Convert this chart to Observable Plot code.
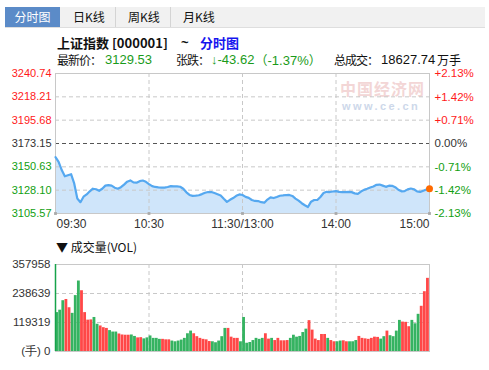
<!DOCTYPE html>
<html><head><meta charset="utf-8">
<script src="https://cdn.jsdelivr.net/npm/d3@7"></script>
<script src="https://cdn.jsdelivr.net/npm/@observablehq/plot@0.6"></script>
<style>
body{margin:0;background:#fff;font-family:"Liberation Sans","Noto Sans CJK SC",sans-serif;color:#111;}
#root{position:relative;width:489px;height:370px;overflow:hidden;}
.abs{position:absolute;white-space:nowrap;line-height:1;}
.cjk{font-family:"Noto Sans CJK SC","Liberation Sans",sans-serif;}
.lab{font-size:12px;letter-spacing:-1px;line-height:12px;top:54px;}
.num{font-family:"Liberation Sans",sans-serif;font-size:13px;line-height:12px;top:54px;}
.g{color:#1a9b1a;}
#price,#vol{position:absolute;left:0;}
#price{top:65px;}
#vol{top:255px;}
</style></head><body><div id="root">
<div class="abs" style="left:5px;top:7px;width:480px;height:20px;background:#f1f1f1;border-bottom:1px solid #dedede;"></div>
<div class="abs cjk" style="left:5px;top:7px;width:55px;height:20px;background:#5b8bc8;color:#fff;font-size:12px;line-height:20px;text-align:center;">分时图</div>
<div class="abs" style="left:115px;top:7px;width:1px;height:20px;background:#d4d4d4;"></div>
<div class="abs" style="left:170px;top:7px;width:1px;height:20px;background:#d4d4d4;"></div>
<div class="abs cjk" style="left:73px;top:10px;font-size:12px;line-height:14px;">日K线</div>
<div class="abs cjk" style="left:128px;top:10px;font-size:12px;line-height:14px;">周K线</div>
<div class="abs cjk" style="left:183px;top:10px;font-size:12px;line-height:14px;">月K线</div>

<div class="abs cjk" style="left:57px;top:35px;font-size:13px;font-weight:bold;line-height:15px;">上证指数 [000001]</div>
<div class="abs" style="left:181px;top:35px;font-size:13px;font-weight:bold;line-height:15px;">~</div>
<div class="abs cjk" style="left:200px;top:35px;font-size:13px;font-weight:bold;line-height:15px;color:#1515ee;">分时图</div>

<div class="abs cjk lab" style="left:57px;">最新价：</div>
<div class="abs num g" style="left:105px;">3129.53</div>
<div class="abs cjk lab" style="left:176px;">张跌：</div>
<div class="abs num g" style="left:211px;">↓-43.62</div>
<div class="abs cjk g" style="left:255px;top:54px;font-size:12.5px;line-height:12px;">（<span style="font-family:'Liberation Sans';font-size:13px;">-1.37%</span>）</div>
<div class="abs cjk lab" style="left:334px;">总成交：</div>
<div class="abs num" style="left:381px;">18627.74</div>
<div class="abs cjk" style="left:437px;top:54px;font-size:12px;line-height:12px;">万手</div>

<div class="abs cjk" style="left:340px;top:80.5px;font-size:16px;font-weight:bold;color:#f3d6d6;line-height:15px;letter-spacing:1px;">中国经济网</div>
<div class="abs" style="left:342px;top:101px;font-size:11px;font-weight:bold;color:#cdd8ea;line-height:10px;letter-spacing:2.4px;">www.ce.cn</div>

<div class="abs cjk" style="left:56px;top:240px;font-size:12px;line-height:14px;">▼ 成交量(VOL)</div>
<div id="price"></div>
<div id="vol"></div>
</div>
<script>
// Price ticks (left), percent labels (right), time ticks
const priceTicks = [3240.74, 3218.21, 3195.68, 3173.15, 3150.63, 3128.10, 3105.57];
const pctLabels = ["+2.13%", "+1.42%", "+0.71%", "0.00%", "-0.71%", "-1.42%", "-2.13%"];
const timeTicks = [0, 60, 120, 180, 240];
const timeLabels = ["09:30", "10:30", "11:30/13:00", "14:00", "15:00"];
const volTicks = [357958, 238639, 119319, 0];
const volLabels = ["357958", "238639", "119319", "(手) 0"];

// Index price every 2 trading minutes from 09:30 (0) to 15:00 (240)
const prices = [
  3160, 3155.5, 3147.5, 3141.5, 3142.5, 3143.5, 3134.6, 3120, 3116.5, 3121.8,
  3124, 3127, 3129.5, 3129, 3127.5, 3129.5, 3132.5, 3133, 3132.5, 3130.5,
  3129.5, 3131, 3133.5, 3136.3, 3137.5, 3135.6, 3135.3, 3136.8, 3137.4, 3136.2,
  3134, 3132, 3131.2, 3130.8, 3130.6, 3130.6, 3131.2, 3132, 3131.8, 3131.7,
  3131.4, 3129.5, 3126, 3123.5, 3122.6, 3122.8, 3123.2, 3124.3, 3125.6, 3126.3,
  3126.3, 3125.3, 3124.2, 3123, 3119.8, 3116.8, 3118.8, 3120.5, 3122.6, 3124,
  3123.4, 3121.6, 3120.7, 3118.6, 3117.7, 3117.6, 3116.5, 3116, 3119, 3121.1,
  3120.5, 3121.5, 3122.7, 3123, 3123.4, 3123.5, 3122.5, 3120, 3118, 3115.5,
  3113.5, 3111.8, 3117, 3118.6, 3118.6, 3121.5, 3125.4, 3126.5, 3126.3, 3126.8,
  3127.2, 3126.5, 3126.3, 3126.3, 3126.5, 3126.2, 3125, 3124.5, 3126.8, 3128.4,
  3129.4, 3130.6, 3131.7, 3133.3, 3133.5, 3132.5, 3131.3, 3132.4, 3132.3, 3131,
  3128.5, 3127, 3127.2, 3128.9, 3129.7, 3129, 3127, 3126.4, 3127.6, 3128.8,
  3129.53
];

// Volume (手) per 2-minute interval
const volumes = [
  160000, 170000, 209000, 214000, 180000, 157000, 230000, 290000, 250000, 160000,
  129000, 130000, 140000, 112000, 105000, 98000, 95000, 86000, 80000, 80000,
  72000, 68000, 67000, 67000, 68000, 62000, 56000, 57000, 52000, 56000,
  64000, 54000, 54000, 50000, 50000, 48000, 48000, 43000, 40000, 43000,
  47000, 54000, 73000, 84000, 73000, 61000, 54000, 50000, 48000, 41000,
  40000, 36000, 43000, 61000, 95000, 95000, 59000, 54000, 54000, 40000,
  140000, 34000, 37000, 45000, 54000, 50000, 54000, 73000, 51000, 54000,
  45000, 54000, 44000, 44000, 45000, 54000, 67000, 59000, 62000, 78000,
  92000, 127000, 88000, 51000, 45000, 70000, 70000, 54000, 45000, 40000,
  40000, 43000, 44000, 40000, 40000, 40000, 45000, 62000, 54000, 52000,
  50000, 54000, 59000, 58000, 51000, 61000, 84000, 65000, 61000, 84000,
  128000, 121000, 120000, 102000, 128000, 114000, 153000, 186000, 246000, 301000
];

const FONT = "'Liberation Sans', Arial, sans-serif";
const yMin = priceTicks[priceTicks.length - 1], yMax = priceTicks[0];
const rows = prices.map((p, i) => ({m: i * 2, p}));
const dash = {stroke: "#c8c8c8", strokeDasharray: "4,3"};
const tickRows = priceTicks.map((v, i) => ({v, i, pct: pctLabels[i]}));
const timeRows = timeTicks.map((t, i) => ({t, label: timeLabels[i]}));
const up = tickRows.filter(d => d.i < 3), mid = tickRows.filter(d => d.i === 3), dn = tickRows.filter(d => d.i > 3);
const RED = "#ff1a1a", GRN = "#11a011", MID = "#333";

const priceChart = Plot.plot({
  width: 489, height: 165,
  marginLeft: 55, marginRight: 60, marginTop: 8, marginBottom: 17,
  x: {domain: [0, 240], axis: null},
  y: {domain: [yMin, yMax], axis: null},
  style: {fontFamily: FONT, fontSize: "11px", background: "transparent", overflow: "visible"},
  marks: [
    Plot.areaY(rows, {x: "m", y1: yMin, y2: "p", fill: "#cfe5fa"}),
    Plot.ruleY(priceTicks.slice(1, -1).filter((d, i) => i !== 2), dash),
    Plot.ruleY([priceTicks[3]], {stroke: "#555", strokeDasharray: "4,3"}),
    Plot.ruleX(timeTicks.slice(1, -1), dash),
    Plot.frame({stroke: "#c8c8c8"}),
    Plot.line(rows, {x: "m", y: "p", stroke: "#55a8f0", strokeWidth: 2.2}),
    Plot.dot([rows[rows.length - 1]], {x: "m", y: "p", r: 3.5, fill: "#ff6a00"}),
    Plot.dot(timeTicks, {x: d => d, y: yMin, symbol: "square", r: 1.6, fill: "#aaa"}),
    Plot.text(up, {x: 0, y: "v", text: d => d.v.toFixed(2), textAnchor: "end", dx: -4, fill: RED}),
    Plot.text(mid, {x: 0, y: "v", text: d => d.v.toFixed(2), textAnchor: "end", dx: -4, fill: MID}),
    Plot.text(dn, {x: 0, y: "v", text: d => d.v.toFixed(2), textAnchor: "end", dx: -4, fill: GRN}),
    Plot.text(up, {x: 240, y: "v", text: "pct", textAnchor: "start", dx: 5, fill: RED, fontSize: 11.5}),
    Plot.text(mid, {x: 240, y: "v", text: "pct", textAnchor: "start", dx: 5, fill: MID, fontSize: 11.5}),
    Plot.text(dn, {x: 240, y: "v", text: "pct", textAnchor: "start", dx: 5, fill: GRN, fontSize: 11.5}),
    Plot.text(timeRows.slice(0, 1), {x: "t", y: yMin, text: "label", textAnchor: "start", dx: 1, dy: 11, fill: MID, fontSize: 12}),
    Plot.text(timeRows.slice(1, -1), {x: "t", y: yMin, text: "label", textAnchor: "middle", dy: 11, fill: MID, fontSize: 12}),
    Plot.text(timeRows.slice(-1), {x: "t", y: yMin, text: "label", textAnchor: "end", dy: 11, fill: MID, fontSize: 12})
  ]
});
document.getElementById("price").appendChild(priceChart);

const bins = volumes.map((v, i) => ({x1: i * 2, x2: i * 2 + 2, v, up: prices[i + 1] >= prices[i]}));
const volRows = volTicks.map((v, i) => ({v, label: volLabels[i]}));
const volChart = Plot.plot({
  width: 489, height: 105,
  marginLeft: 55, marginRight: 60, marginTop: 9, marginBottom: 9,
  x: {domain: [0, 240], axis: null},
  y: {domain: [0, volTicks[0]], axis: null},
  style: {fontFamily: FONT, fontSize: "11px", background: "transparent", overflow: "visible"},
  marks: [
    Plot.ruleY(volTicks.slice(1, 3), dash),
    Plot.ruleX(timeTicks.slice(1, -1), dash),
    Plot.frame({stroke: "#c8c8c8"}),
    Plot.rectY(bins.filter(d => d.up), {x1: "x1", x2: "x2", y: "v", fill: "#ff4848", insetLeft: 0.15, insetRight: 0.15}),
    Plot.rectY(bins.filter(d => !d.up), {x1: "x1", x2: "x2", y: "v", fill: "#35b361", insetLeft: 0.15, insetRight: 0.15}),
    Plot.ruleX([0], {stroke: "#16a34a", strokeWidth: 1.5}),
    Plot.text(volRows, {x: 0, y: "v", text: "label", textAnchor: "end", dx: -5, fill: MID, fontSize: 11.5})
  ]
});
document.getElementById("vol").appendChild(volChart);
</script>
</body></html>
